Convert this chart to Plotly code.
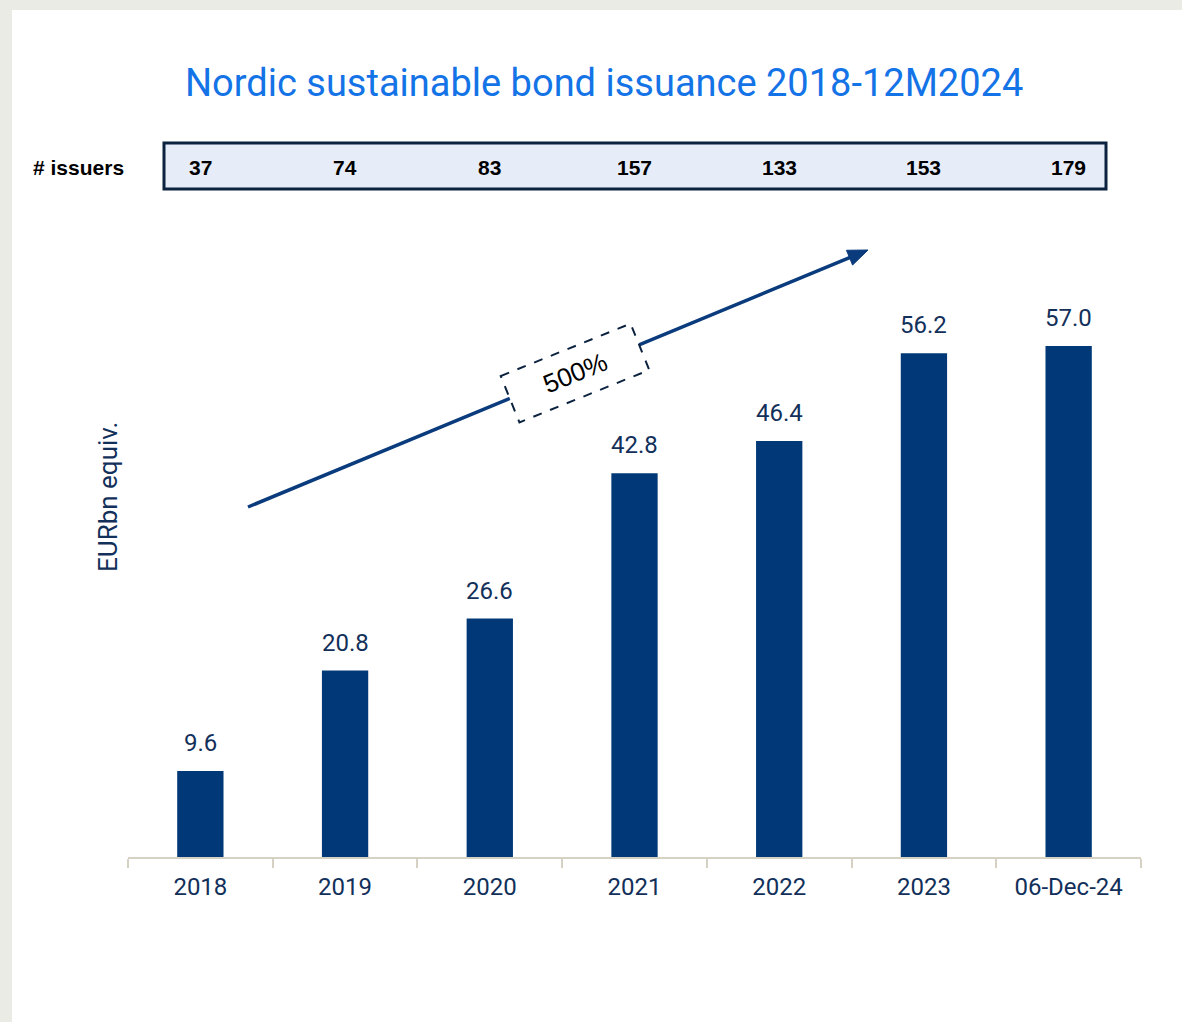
import math
import plotly.graph_objects as go

# ---- data ----
categories = ["2018", "2019", "2020", "2021", "2022", "2023", "06-Dec-24"]
issuance_eurbn = [9.6, 20.8, 26.6, 42.8, 46.4, 56.2, 57.0]
issuers = [37, 74, 83, 157, 133, 153, 179]
growth_label = "500%"

# ---- layout geometry (pixels) ----
W, H = 1182, 1022
M_L, M_R, M_T, M_B = 128, 41, 220, 165
PLOT_W = W - M_L - M_R
PLOT_H = H - M_T - M_B
PX_PER_UNIT = 8.965
Y_MAX = PLOT_H / PX_PER_UNIT

NAVY_BAR = "#003878"
NAVY_TEXT = "#12305A"
TITLE_BLUE = "#1473E6"
AXIS_BEIGE = "#D5D1C3"
FONT = "Roboto, Arial, sans-serif"
ARIAL = "Liberation Sans, Arial, sans-serif"


def px(x):
    """pixel x -> paper x"""
    return (x - M_L) / PLOT_W


def py(y):
    """pixel y (from top) -> paper y"""
    return (H - M_B - y) / PLOT_H


fig = go.Figure()
fig.add_trace(go.Bar(
    x=categories, y=issuance_eurbn, width=0.32,
    marker=dict(color=NAVY_BAR, line=dict(width=0)),
    hoverinfo="skip", cliponaxis=False,
))

shapes = []
annotations = []

# white card over the grey page
shapes.append(dict(type="rect", xref="paper", yref="paper",
                   x0=px(12), x1=px(W + 5), y0=py(10), y1=py(H + 5),
                   fillcolor="white", line=dict(width=0), layer="below"))

# title
annotations.append(dict(text="Nordic sustainable bond issuance 2018-12M2024",
                        xref="paper", yref="paper", x=px(604), y=py(83),
                        xanchor="center", yanchor="middle", showarrow=False,
                        font=dict(family=FONT, size=38, color=TITLE_BLUE)))

# issuer count strip
shapes.append(dict(type="rect", xref="paper", yref="paper",
                   x0=px(164), x1=px(1106), y0=py(143), y1=py(189),
                   fillcolor="#E6ECF8", line=dict(color="#0C2340", width=3)))
annotations.append(dict(text="<b># issuers</b>", xref="paper", yref="paper",
                        x=px(31), y=py(167), xanchor="left", yanchor="middle",
                        showarrow=False, font=dict(family=ARIAL, size=21, color="black")))
for i, n in enumerate(issuers):
    annotations.append(dict(text=f"<b>{n}</b>", xref="x", yref="paper",
                            x=i, y=py(167), xanchor="center", yanchor="middle",
                            showarrow=False, font=dict(family=ARIAL, size=21, color="black")))

# value labels above bars
for i, v in enumerate(issuance_eurbn):
    annotations.append(dict(text=f"{v:.1f}", xref="x", yref="y", x=i, y=v,
                            xanchor="center", yanchor="bottom", yshift=12,
                            showarrow=False,
                            font=dict(family=FONT, size=24, color=NAVY_TEXT)))

# y-axis caption
annotations.append(dict(text="EURbn equiv.", xref="paper", yref="paper",
                        x=px(108), y=py(497), textangle=-90,
                        xanchor="center", yanchor="middle", showarrow=False,
                        font=dict(family=FONT, size=26, color=NAVY_TEXT)))

# growth arrow
ARROW_COLOR = "#0A3B7C"
sx, sy = 248, 507
tx, ty = 868, 250
L = math.hypot(tx - sx, ty - sy)
ux, uy = (tx - sx) / L, (ty - sy) / L
nx, ny = -uy, ux
head_len, head_half = 20, 8
bx, by = tx - head_len * ux, ty - head_len * uy
shapes.append(dict(type="line", xref="paper", yref="paper",
                   x0=px(sx), y0=py(sy), x1=px(bx + 2 * ux), y1=py(by + 2 * uy),
                   line=dict(color=ARROW_COLOR, width=3.5)))
tri = [(tx, ty), (bx + head_half * nx, by + head_half * ny),
       (bx - head_half * nx, by - head_half * ny)]
path = "M " + " L ".join(f"{px(a)},{py(b)}" for a, b in tri) + " Z"
shapes.append(dict(type="path", xref="paper", yref="paper", path=path,
                   fillcolor=ARROW_COLOR, line=dict(color=ARROW_COLOR, width=1)))

# dashed label box on the arrow
cx, cy = 575, 373
ang = math.radians(22)
bw, bh = 140, 50
ax_, ay_ = math.cos(ang), -math.sin(ang)
nx2, ny2 = math.sin(ang), math.cos(ang)
corners = []
for s1, s2 in [(-1, -1), (1, -1), (1, 1), (-1, 1)]:
    corners.append((cx + s1 * bw / 2 * ax_ + s2 * bh / 2 * nx2,
                    cy + s1 * bw / 2 * ay_ + s2 * bh / 2 * ny2))
path = "M " + " L ".join(f"{px(a)},{py(b)}" for a, b in corners) + " Z"
shapes.append(dict(type="path", xref="paper", yref="paper", path=path,
                   fillcolor="white",
                   line=dict(color="#0C2340", width=2, dash="dash")))
annotations.append(dict(text=growth_label, xref="paper", yref="paper",
                        x=px(cx), y=py(cy), textangle=-22,
                        xanchor="center", yanchor="middle", showarrow=False,
                        font=dict(family=ARIAL, size=26, color="black")))

fig.update_layout(
    width=W, height=H,
    margin=dict(l=M_L, r=M_R, t=M_T, b=M_B, pad=0),
    paper_bgcolor="#EBEBE6", plot_bgcolor="rgba(0,0,0,0)",
    showlegend=False,
    shapes=shapes, annotations=annotations,
    xaxis=dict(type="category", range=[-0.5, 6.5], showline=True,
               linecolor=AXIS_BEIGE, linewidth=2, ticks="outside",
               tickson="boundaries", ticklen=9, tickwidth=2, tickcolor=AXIS_BEIGE,
               ticklabelstandoff=7,
               showgrid=False, zeroline=False,
               tickfont=dict(family=FONT, size=24, color=NAVY_TEXT)),
    yaxis=dict(visible=False, range=[0, Y_MAX], fixedrange=True),
)

fig.write_html("out.html")
